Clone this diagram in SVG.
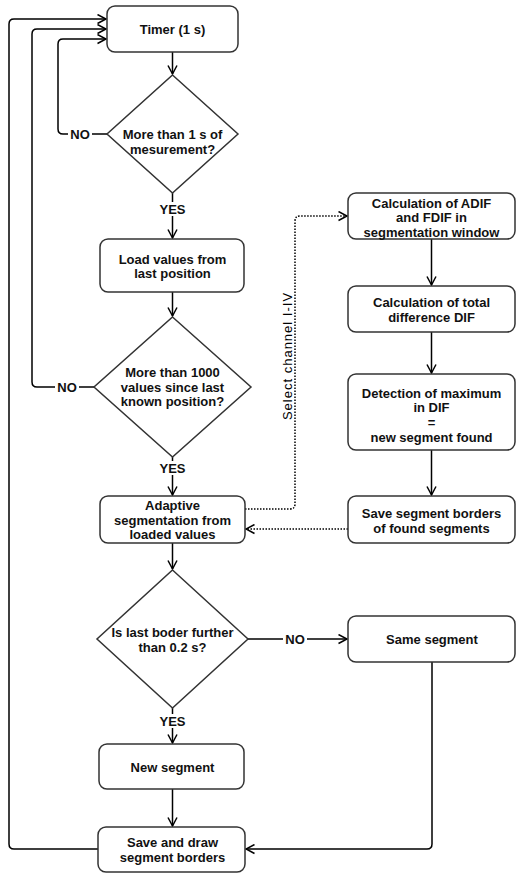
<svg xmlns="http://www.w3.org/2000/svg" width="518" height="875" viewBox="0 0 518 875">
<style>
.box{fill:#fff;stroke:#333;stroke-width:1.5}
.t{font-family:"Liberation Sans",Arial,sans-serif;font-size:13px;font-weight:bold;fill:#111;text-anchor:middle}
.c{fill:none;stroke:#000;stroke-width:1.5}
.d{fill:none;stroke:#000;stroke-width:1.5;stroke-dasharray:1.5 1.5}
.lbl{fill:#fff}
</style>
<defs>
<marker id="a" markerWidth="11" markerHeight="11" refX="9.5" refY="5.5" orient="auto" markerUnits="userSpaceOnUse">
<path d="M1,1 L9.5,5.5 L1,10" fill="none" stroke="#000" stroke-width="1.5"/>
</marker>
</defs>
<g id="connectors">
<path class="c" d="M172.5,52 V74" marker-end="url(#a)"/>
<path class="c" d="M172.5,193 V202"/>
<path class="c" d="M172.5,216 V238" marker-end="url(#a)"/>
<path class="c" d="M172.5,292 V316" marker-end="url(#a)"/>
<path class="c" d="M172.5,457 V461"/>
<path class="c" d="M172.5,475 V495" marker-end="url(#a)"/>
<path class="c" d="M172.5,543 V569" marker-end="url(#a)"/>
<path class="c" d="M172.5,708 V714"/>
<path class="c" d="M172.5,728 V743" marker-end="url(#a)"/>
<path class="c" d="M172.5,789 V826" marker-end="url(#a)"/>
<path class="c" d="M98,849 H14 Q9,849 9,844 V24 Q9,19 14,19 H106" marker-end="url(#a)"/>
<path class="c" d="M94,387 H37 Q32,387 32,382 V34 Q32,29 37,29 H106" marker-end="url(#a)"/>
<path class="c" d="M107,134 H63 Q58,134 58,129 V44 Q58,39 63,39 H106" marker-end="url(#a)"/>
<path class="c" d="M248,639 H347" marker-end="url(#a)"/>
<path class="c" d="M432,662 V844 Q432,849 427,849 H246" marker-end="url(#a)"/>
<path class="c" d="M431.5,239 V285" marker-end="url(#a)"/>
<path class="c" d="M431.5,332 V373" marker-end="url(#a)"/>
<path class="c" d="M431.5,450 V495" marker-end="url(#a)"/>
<path class="d" d="M245,509 H290 Q295,509 295,504 V221 Q295,216 300,216 H347" marker-end="url(#a)"/>
<path class="d" d="M348,529 H246" marker-end="url(#a)"/>
<rect class="lbl" x="68" y="126" width="24" height="16"/>
<text class="t" x="80" y="139">NO</text>
<rect class="lbl" x="55" y="379" width="24" height="16"/>
<text class="t" x="67" y="392">NO</text>
<rect class="lbl" x="283" y="631" width="24" height="16"/>
<text class="t" x="295" y="644">NO</text>
<text class="t" x="172.5" y="214">YES</text>
<text class="t" x="172.5" y="473">YES</text>
<text class="t" x="172.5" y="726">YES</text>
<text class="t" transform="translate(292,356) rotate(-90)" style="font-weight:normal;letter-spacing:1px;fill:#000">Select channel I-IV</text>
</g>
<g id="timer">
<rect class="box" x="107" y="6" width="131" height="46" rx="8"/>
<text class="t" x="172.5" y="34">Timer (1 s)</text>
</g>
<g id="dec1">
<polygon class="box" points="172.5,75 238,134 172.5,193 107,134"/>
<text class="t" x="172.5" y="139">More than 1 s of</text>
<text class="t" x="172.5" y="154">mesurement?</text>
</g>
<g id="load">
<rect class="box" x="100" y="239" width="144" height="53" rx="8"/>
<text class="t" x="172.5" y="264">Load values from</text>
<text class="t" x="172.5" y="278">last position</text>
</g>
<g id="dec2">
<polygon class="box" points="172.5,317 251,387 172.5,457 94,387"/>
<text class="t" x="172.5" y="377">More than 1000</text>
<text class="t" x="172.5" y="392">values since last</text>
<text class="t" x="172.5" y="406">known position?</text>
</g>
<g id="adaptive">
<rect class="box" x="100" y="496" width="145" height="47" rx="8"/>
<text class="t" x="172.5" y="510">Adaptive</text>
<text class="t" x="172.5" y="525">segmentation from</text>
<text class="t" x="172.5" y="539">loaded values</text>
</g>
<g id="dec3">
<polygon class="box" points="172.5,570 248,639 172.5,708 97,639"/>
<text class="t" x="172.5" y="637">Is last boder further</text>
<text class="t" x="172.5" y="652">than 0.2 s?</text>
</g>
<g id="same">
<rect class="box" x="348" y="616" width="167" height="46" rx="8"/>
<text class="t" x="432" y="644">Same segment</text>
</g>
<g id="newseg">
<rect class="box" x="99" y="744" width="145" height="45" rx="8"/>
<text class="t" x="172.5" y="772">New segment</text>
</g>
<g id="savedraw">
<rect class="box" x="98" y="827" width="147" height="45" rx="8"/>
<text class="t" x="172.5" y="847">Save and draw</text>
<text class="t" x="172.5" y="862">segment borders</text>
</g>
<g id="calcadif">
<rect class="box" x="348" y="193" width="167" height="46" rx="8"/>
<text class="t" x="431.5" y="208">Calculation of ADIF</text>
<text class="t" x="431.5" y="222">and FDIF in</text>
<text class="t" x="431.5" y="237">segmentation window</text>
</g>
<g id="calcdif">
<rect class="box" x="348" y="286" width="167" height="46" rx="8"/>
<text class="t" x="431.5" y="307">Calculation of total</text>
<text class="t" x="431.5" y="322">difference DIF</text>
</g>
<g id="detect">
<rect class="box" x="348" y="374" width="167" height="76" rx="8"/>
<text class="t" x="431.5" y="398">Detection of maximum</text>
<text class="t" x="431.5" y="412">in DIF</text>
<text class="t" x="431.5" y="427">=</text>
<text class="t" x="431.5" y="442">new segment found</text>
</g>
<g id="savefound">
<rect class="box" x="348" y="496" width="167" height="47" rx="8"/>
<text class="t" x="431.5" y="518">Save segment borders</text>
<text class="t" x="431.5" y="533">of found segments</text>
</g>
</svg>
